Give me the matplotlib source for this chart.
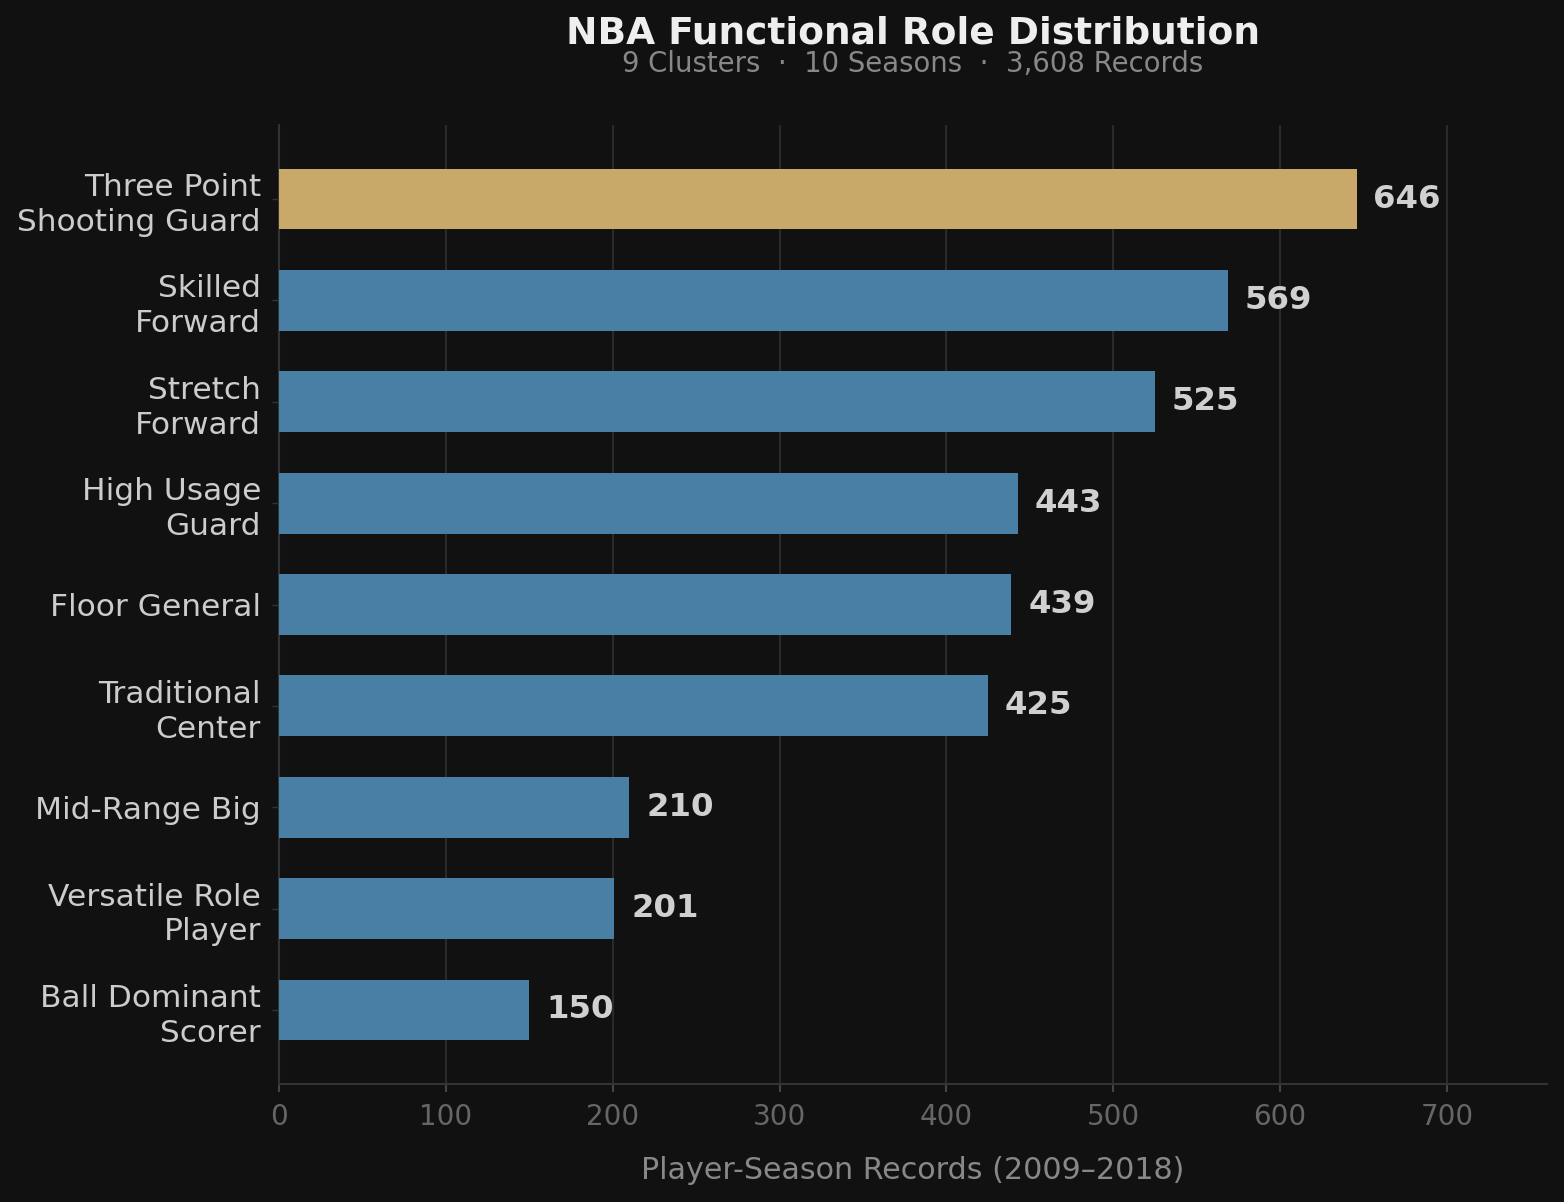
import matplotlib
matplotlib.use("Agg")
import matplotlib.pyplot as plt

# --- data ---
roles = ["Three Point\nShooting Guard", "Skilled\nForward", "Stretch\nForward",
         "High Usage\nGuard", "Floor General", "Traditional\nCenter",
         "Mid-Range Big", "Versatile Role\nPlayer", "Ball Dominant\nScorer"]
counts = [646, 569, 525, 443, 439, 425, 210, 201, 150]
xticks = [0, 100, 200, 300, 400, 500, 600, 700]

BG = "#111111"
GOLD = "#c8a96a"
BLUE = "#4a7fa5"

plt.rcParams['font.family'] = ['DejaVu Sans']

fig = plt.figure(figsize=(15.64, 12.02), dpi=100, facecolor=BG)
ax = fig.add_axes([279 / 1564, 1 - 1084 / 1202, (1547 - 279) / 1564, (1084 - 125) / 1202])
ax.set_facecolor(BG)

colors = [GOLD] + [BLUE] * (len(counts) - 1)
ypos = list(range(len(roles)))
ax.barh(ypos, counts, height=0.6, color=colors, zorder=3)
ax.invert_yaxis()

for y, v in zip(ypos, counts):
    ax.text(v + 10, y, f"{v}", va="center", ha="left", color="#d0d0d0",
            fontsize=23.3, fontweight="bold", zorder=4)

ax.set_xlim(0, 760)
ax.set_xticks(xticks)
ax.set_yticks(ypos)
ax.set_yticklabels(roles, fontsize=22.5, color="#cccccc", linespacing=1.25)
ax.tick_params(axis="y", length=5, width=1, color="#333333", pad=8)
ax.tick_params(axis="x", labelsize=20, labelcolor="#666666", length=6, width=1.5,
               color="#444444", pad=8)

ax.grid(axis="x", color="#2a2a2a", linewidth=1.5, zorder=0)
ax.grid(axis="y", visible=False)
for s in ["top", "right"]:
    ax.spines[s].set_visible(False)
for s in ["left", "bottom"]:
    ax.spines[s].set_color("#333333")
    ax.spines[s].set_linewidth(1.5)

ax.set_xlabel("Player-Season Records (2009\u20132018)", fontsize=21.7, color="#888888",
              labelpad=18)

cx = 913 / 1564
fig.text(cx, 1 - 34 / 1202, "NBA Functional Role Distribution",
         ha="center", va="center", fontsize=27, fontweight="bold", color="#eeeeee")
fig.text(cx, 1 - 64 / 1202,
         "9 Clusters  \u00b7  10 Seasons  \u00b7  3,608 Records",
         ha="center", va="center", fontsize=19.8, color="#888888")

fig.savefig("out.png", dpi=100, facecolor=BG)
